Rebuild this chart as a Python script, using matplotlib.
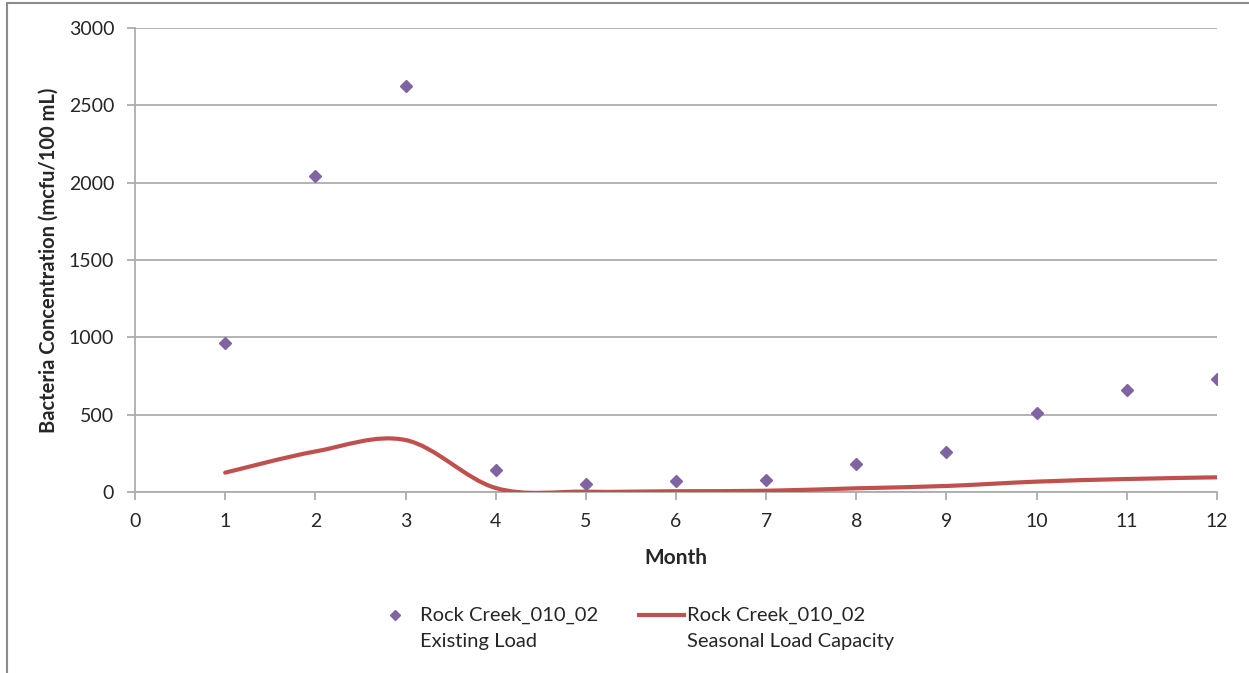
# %%
# Rock Creek_010_02 bacteria: existing load vs seasonal load capacity
import numpy as np
import matplotlib.pyplot as plt
from matplotlib.path import Path
from matplotlib.patches import PathPatch, Rectangle
from matplotlib.lines import Line2D
from matplotlib.legend_handler import HandlerLine2D

plt.rcParams['font.family'] = ['Lato', 'DejaVu Sans']

# %%
# Data
months = [1, 2, 3, 4, 5, 6, 7, 8, 9, 10, 11, 12]
existing_load = [963, 2045, 2625, 142, 52, 71, 78, 183, 259, 509, 660, 731]
load_capacity = [125, 262, 336, 26, 2, 5, 8, 24, 39, 67, 84, 95]
x_ticks = [0, 1, 2, 3, 4, 5, 6, 7, 8, 9, 10, 11, 12]
y_ticks = [0, 500, 1000, 1500, 2000, 2500, 3000]

purple = '#8064A2'
red = '#C0504D'
grey = '#ADADAD'
txt = '#262626'


def smooth_path(x, y):
    # Excel-style smoothed line: cubic Bezier segments through the points
    p = np.column_stack([x, y]).astype(float)
    n = len(p)
    verts = [p[0]]
    codes = [Path.MOVETO]
    for i in range(n - 1):
        p_prev = p[i - 1] if i > 0 else p[i]
        p_next2 = p[i + 2] if i + 2 < n else p[i + 1]
        c1 = p[i] + (p[i + 1] - p_prev) / 6.0
        c2 = p[i + 1] - (p_next2 - p[i]) / 6.0
        verts += [c1, c2, p[i + 1]]
        codes += [Path.CURVE4] * 3
    return Path(verts, codes)


class FirstLineHandler(HandlerLine2D):
    # put the legend key level with the first line of a two-line label
    def create_artists(self, legend, orig_handle, xdescent, ydescent,
                       width, height, fontsize, trans):
        arts = super().create_artists(legend, orig_handle, xdescent, ydescent,
                                      width, height, fontsize, trans)
        for a in arts:
            a.set_ydata(np.asarray(a.get_ydata()) + 9.5)
        return arts


# %%
fig = plt.figure(figsize=(12.49, 6.73), dpi=100)
ax = fig.add_axes([135 / 1249, 1 - 492 / 673, 1082 / 1249, 464 / 673])

# chart-area border (only left and top visible in the crop)
fig.add_artist(Rectangle((7 / 1249, -0.1), 1.2, 1.1 - 3.5 / 673,
                         transform=fig.transFigure, fill=False,
                         edgecolor='#8C8C8C', linewidth=1.5))

ax.add_patch(PathPatch(smooth_path(months, load_capacity), facecolor='none',
                       edgecolor=red, linewidth=3, capstyle='round', zorder=3))
ax.plot(months, existing_load, linestyle='none', marker='D', markersize=6.5,
        color=purple, zorder=4)

ax.set_xlim(0, 12)
ax.set_ylim(0, 3000)
ax.set_xticks(x_ticks)
ax.set_yticks(y_ticks)
ax.grid(True, axis='y', color=grey, linewidth=1.3)
ax.set_axisbelow(True)
for s in ['top', 'right']:
    ax.spines[s].set_visible(False)
for s in ['left', 'bottom']:
    ax.spines[s].set_color(grey)
    ax.spines[s].set_linewidth(1.3)
ax.tick_params(axis='both', colors=grey, labelcolor=txt, labelsize=14,
               length=6, width=1.3)
ax.tick_params(axis='y', pad=9)
ax.tick_params(axis='x', pad=9)

ax.set_xlabel('Month', fontsize=15, fontweight='bold', color=txt)
ax.set_ylabel('Bacteria Concentration (mcfu/100 mL)', fontsize=14.5,
              fontweight='bold', color=txt)
ax.xaxis.set_label_coords(0.5, -0.12)
ax.yaxis.set_label_coords(-0.071, 0.5)

handles = [Line2D([], [], linestyle='none', marker='D', markersize=5, color=purple),
           Line2D([], [], color=red, linewidth=3)]
labels = ['Rock Creek_010_02\nExisting Load',
          'Rock Creek_010_02\nSeasonal Load Capacity']
fig.legend(handles, labels, loc='upper center', bbox_to_anchor=(0.507, 0.125),
           ncol=2, frameon=False, fontsize=14.5, handlelength=2.2,
           handletextpad=0.15, columnspacing=2.05, labelcolor=txt,
           labelspacing=0.5, handler_map={Line2D: FirstLineHandler()})
for t in fig.legends[0].get_texts():
    t.set_linespacing(1.6)

fig.savefig('out.png', dpi=100)
